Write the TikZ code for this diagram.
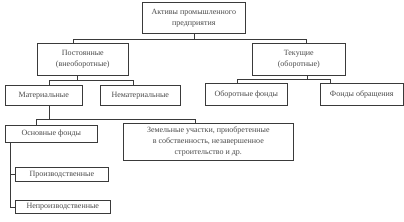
\documentclass[tikz,border=0pt]{standalone}
\usepackage{fontspec}
\setmainfont{Liberation Serif}
\usepackage{xcolor}
\usepackage{tikz}
\usetikzlibrary{positioning}
\definecolor{tinta}{HTML}{3A3A3A}
\definecolor{texto}{HTML}{4A4A4A}

\begin{document}
\begin{tikzpicture}[x=1pt, y=1pt,
      blok/.style={rectangle, draw=tinta, line width=0.6pt, anchor=north west, inner sep=1pt,
                   align=center, text=texto, font=\fontsize{8}{11}\selectfont},
      liniya/.style={draw=tinta, line width=0.6pt}]

    \useasboundingbox (0,0) rectangle (404,-222);

    \node[blok, minimum width=103pt, minimum height=31pt] (aktivy) at (142,-2) {Активы промышленного\\предприятия};
    \node[blok, minimum width=91pt, minimum height=32pt] (post) at (37,-43) {Постоянные\\(внеоборотные)};
    \node[blok, minimum width=93pt, minimum height=32pt] (tek) at (252,-43) {Текущие\\(оборотные)};
    \node[blok, minimum width=77pt, minimum height=20pt] (mat) at (5,-85) {Материальные};
    \node[blok, minimum width=80pt, minimum height=20pt] (nemat) at (100,-85) {Нематериальные};
    \node[blok, minimum width=82pt, minimum height=22pt] (obf) at (205,-83) {Оборотные фонды};
    \node[blok, minimum width=83pt, minimum height=22pt] (fobr) at (320,-83) {Фонды обращения};
    \node[blok, minimum width=92pt, minimum height=17pt] (osn) at (5,-125) {Основные фонды};
    \node[blok, minimum width=170pt, minimum height=37pt] (zem) at (123,-123)
        {Земельные участки, приобретенные\\в собственность, незавершенное\\строительство и др.};
    \node[blok, minimum width=93pt, minimum height=14pt] (proizv) at (15,-167) {Производственные};
    \node[blok, minimum width=95pt, minimum height=13pt] (neproizv) at (15,-200) {Непроизводственные};

    \draw[liniya] (aktivy.south) -- ++(0,-6) -| ([xshift=-9.5pt]post.north);
    \draw[liniya] (aktivy.south) -- ++(0,-6) -| ([xshift=7.5pt]tek.north);
    \draw[liniya] ([xshift=-5.5pt]post.south) -- ++(0,-5) -| ([xshift=5.5pt]mat.north);
    \draw[liniya] ([xshift=-5.5pt]post.south) -- ++(0,-5) -| ([xshift=-7pt]nemat.north);
    \draw[liniya] ([xshift=8.5pt]tek.south) -- ++(0,-4) -| ([xshift=-9pt]obf.north);
    \draw[liniya] ([xshift=8.5pt]tek.south) -- ++(0,-4) -| ([xshift=-31.5pt]fobr.north);
    \draw[liniya] ([xshift=5.5pt]mat.south) -- ++(0,-14) -| ([xshift=-15pt]osn.north);
    \draw[liniya] ([xshift=5.5pt]mat.south) -- ++(0,-14) -| ([xshift=-13pt]zem.north);
    \draw[liniya] ([xshift=5pt]osn.south west) |- (proizv.west);
    \draw[liniya] ([xshift=5pt]osn.south west) |- (neproizv.west);
  \end{tikzpicture}
\end{document}
